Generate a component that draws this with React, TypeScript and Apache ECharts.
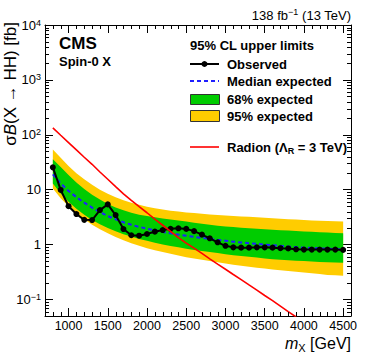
import React, { useEffect, useRef } from 'react';
import * as echarts from 'echarts';

const masses = [800, 900, 1000, 1100, 1200, 1300, 1400, 1500, 1600, 1700, 1800, 1900, 2000, 2100, 2200, 2300, 2400, 2500, 2600, 2700, 2800, 2900, 3000, 3100, 3200, 3300, 3400, 3500, 3600, 3700, 3800, 3900, 4000, 4100, 4200, 4300, 4400, 4500];
const observed = [25.5, 9.9, 5.0, 3.6, 2.82, 2.8, 4.25, 5.4, 3.45, 1.92, 1.48, 1.45, 1.56, 1.72, 1.84, 1.94, 1.98, 1.93, 1.76, 1.52, 1.3, 1.1, 0.95, 0.89, 0.88, 0.88, 0.89, 0.89, 0.88, 0.86, 0.85, 0.82, 0.81, 0.81, 0.81, 0.81, 0.81, 0.8];
const expected = [19, 13, 9.5, 7.3, 5.8, 4.7, 3.9, 3.3, 2.9, 2.55, 2.3, 2.1, 1.95, 1.82, 1.7, 1.6, 1.52, 1.45, 1.38, 1.32, 1.27, 1.22, 1.18, 1.13, 1.09, 1.06, 1.03, 1.0, 0.97, 0.95, 0.92, 0.9, 0.88, 0.87, 0.85, 0.84, 0.83, 0.82];
const exp68Up = [36, 26, 18.5, 13.5, 10.3, 8.1, 6.6, 5.5, 4.75, 4.2, 3.8, 3.5, 3.3, 3.15, 3.0, 2.87, 2.75, 2.62, 2.5, 2.4, 2.3, 2.21, 2.14, 2.08, 2.03, 1.98, 1.94, 1.9, 1.87, 1.83, 1.8, 1.77, 1.74, 1.71, 1.68, 1.66, 1.63, 1.61];
const exp68Down = [13, 8.5, 6.0, 4.5, 3.5, 2.8, 2.35, 2.0, 1.75, 1.55, 1.4, 1.27, 1.17, 1.08, 1.0, 0.94, 0.89, 0.84, 0.8, 0.76, 0.73, 0.7, 0.67, 0.64, 0.62, 0.6, 0.58, 0.56, 0.54, 0.53, 0.52, 0.51, 0.5, 0.49, 0.48, 0.475, 0.47, 0.465];
const exp95Up = [54, 38, 27, 20, 15.5, 12.3, 10, 8.4, 7.3, 6.4, 5.8, 5.3, 4.9, 4.6, 4.35, 4.15, 4.0, 3.85, 3.75, 3.65, 3.55, 3.47, 3.4, 3.33, 3.26, 3.2, 3.14, 3.08, 3.02, 2.96, 2.9, 2.85, 2.8, 2.76, 2.72, 2.68, 2.65, 2.62];
const exp95Down = [10.5, 7.0, 5.0, 3.7, 2.9, 2.3, 1.9, 1.6, 1.38, 1.2, 1.06, 0.95, 0.86, 0.79, 0.73, 0.68, 0.63, 0.59, 0.56, 0.53, 0.5, 0.475, 0.45, 0.43, 0.41, 0.395, 0.38, 0.365, 0.35, 0.34, 0.33, 0.32, 0.31, 0.3, 0.29, 0.28, 0.275, 0.27];
const radionMasses = [800, 900, 1000, 1100, 1200, 1300, 1400, 1500, 1600, 1700, 1800, 1900, 2000, 2100, 2200, 2300, 2400, 2500, 2600, 2700, 2800, 2900, 3000, 3100, 3200, 3300, 3400, 3500, 3600, 3700, 3800, 3900];
const radionXsec = [134, 98, 72, 53, 39, 29, 21, 15.5, 11.4, 8.4, 6.4, 4.9, 3.8, 2.9, 2.25, 1.74, 1.34, 1.06, 0.86, 0.69, 0.55, 0.44, 0.355, 0.285, 0.23, 0.184, 0.148, 0.118, 0.095, 0.0755, 0.06, 0.048];

const X_MIN = 700;
const X_MAX = 4600;
const Y_MIN = 0.05;
const Y_MAX = 10000;

// minor tick positions (axis decoration)
const xMinorTicks: number[] = [];
for (let v = 800; v < X_MAX; v += 100) if (v % 500 !== 0) xMinorTicks.push(v);
const yMinorTicks: number[] = [];
for (let e = -2; e < 4; e++) {
  for (let k = 2; k <= 9; k++) {
    const v = k * Math.pow(10, e);
    if (v > Y_MIN && v < Y_MAX) yMinorTicks.push(v);
  }
}

const FONT = '"Liberation Sans", Arial, Helvetica, sans-serif';
const GREEN = '#00cc00';
const YELLOW = '#ffcc00';

function bandSeries(up: number[], down: number[], color: string, z: number) {
  return {
    type: 'custom',
    xAxisIndex: 0,
    yAxisIndex: 0,
    z,
    silent: true,
    data: [[masses[0], up[0]]],
    renderItem: (_params: any, api: any) => {
      const pts: number[][] = [];
      for (let i = 0; i < masses.length; i++) pts.push(api.coord([masses[i], up[i]]));
      for (let i = masses.length - 1; i >= 0; i--) pts.push(api.coord([masses[i], down[i]]));
      return { type: 'polygon', shape: { points: pts }, style: { fill: color, stroke: 'none' } };
    },
  };
}

function yLabel(v: number) {
  const e = Math.round(Math.log10(v));
  if (Math.abs(Math.pow(10, e) - v) / v > 1e-6) return '';
  if (e === 0) return '{b|1}';
  if (e === 1) return '{b|10}';
  return '{b|10}{s|' + (e < 0 ? '\u2212' + -e : String(e)) + '}';
}

const tickStyle = { stroke: '#000', lineWidth: 1 };

const option: any = {
  animation: false,
  backgroundColor: '#fff',
  grid: { left: 45, right: 23, top: 25, bottom: 43 },
  xAxis: [
    {
      type: 'value', min: X_MIN, max: X_MAX, splitNumber: 8, position: 'bottom',
      axisLine: { show: true, onZero: false, lineStyle: { color: '#000', width: 1 } },
      axisTick: { show: true, inside: true, length: 8, lineStyle: { color: '#000' } },
      axisLabel: {
        show: true, showMinLabel: false, showMaxLabel: false, margin: 3, color: '#000', fontFamily: FONT, fontSize: 12.5,
        formatter: (v: number) => String(Math.round(v)),
      },
      splitLine: { show: false },
    },
    {
      type: 'value', min: X_MIN, max: X_MAX, splitNumber: 8, position: 'top',
      axisLine: { show: true, onZero: false, lineStyle: { color: '#000', width: 1 } },
      axisTick: { show: true, inside: true, length: 8, lineStyle: { color: '#000' } },
      axisLabel: { show: false },
      splitLine: { show: false },
    },
  ],
  yAxis: [
    {
      type: 'log', logBase: 10, min: Y_MIN, max: Y_MAX, position: 'left',
      axisLine: { show: true, onZero: false, lineStyle: { color: '#000', width: 1 } },
      axisTick: { show: true, inside: true, length: 8, lineStyle: { color: '#000' } },
      axisLabel: {
        show: true, showMinLabel: false, margin: 4, color: '#000', fontFamily: FONT,
        formatter: yLabel,
        rich: {
          b: { fontSize: 13, fontFamily: FONT, color: '#000', lineHeight: 14 },
          s: { fontSize: 9, fontFamily: FONT, color: '#000', lineHeight: 9, verticalAlign: 'top', padding: [0, 0, 7, 0] },
        },
      },
      splitLine: { show: false },
    },
    {
      type: 'log', logBase: 10, min: Y_MIN, max: Y_MAX, position: 'right',
      axisLine: { show: true, onZero: false, lineStyle: { color: '#000', width: 1 } },
      axisTick: { show: true, inside: true, length: 8, lineStyle: { color: '#000' } },
      axisLabel: { show: false },
      splitLine: { show: false },
    },
  ],
  series: [
    bandSeries(exp95Up, exp95Down, YELLOW, 1),
    bandSeries(exp68Up, exp68Down, GREEN, 2),
    {
      type: 'line', name: 'Median expected', xAxisIndex: 0, yAxisIndex: 0, z: 3,
      data: masses.map((m, i) => [m, expected[i]]),
      showSymbol: false, symbol: 'none',
      lineStyle: { color: '#1f1fff', width: 2, type: [4, 3] },
    },
    {
      type: 'line', name: 'Observed', xAxisIndex: 0, yAxisIndex: 0, z: 4,
      data: masses.map((m, i) => [m, observed[i]]),
      symbol: 'circle', symbolSize: 6, showSymbol: true,
      itemStyle: { color: '#000' },
      lineStyle: { color: '#000', width: 2 },
    },
    {
      type: 'line', name: 'Radion', xAxisIndex: 0, yAxisIndex: 0, z: 5,
      data: radionMasses.map((m, i) => [m, radionXsec[i]]),
      showSymbol: false, symbol: 'none', clip: true,
      lineStyle: { color: '#ff0000', width: 1.6 },
    },
    {
      type: 'custom', xAxisIndex: 0, yAxisIndex: 0, z: 10, silent: true,
      data: [
        ...xMinorTicks.map((v) => [v, 1, 0]),
        ...yMinorTicks.map((v) => [1000, v, 1]),
      ],
      renderItem: (params: any, api: any) => {
        const cs = params.coordSys;
        const kind = api.value(2);
        if (kind === 0) {
          const x = Math.round(api.coord([api.value(0), 1])[0]) + 0.5;
          return {
            type: 'group', children: [
              { type: 'line', shape: { x1: x, y1: cs.y + cs.height, x2: x, y2: cs.y + cs.height - 4 }, style: tickStyle },
              { type: 'line', shape: { x1: x, y1: cs.y, x2: x, y2: cs.y + 4 }, style: tickStyle },
            ],
          };
        }
        const y = Math.round(api.coord([1000, api.value(1)])[1]) + 0.5;
        return {
          type: 'group', children: [
            { type: 'line', shape: { x1: cs.x, y1: y, x2: cs.x + 4, y2: y }, style: tickStyle },
            { type: 'line', shape: { x1: cs.x + cs.width, y1: y, x2: cs.x + cs.width - 4, y2: y }, style: tickStyle },
          ],
        };
      },
    },
  ],
  graphic: [
    {
      type: 'text', x: 351, y: 15, z: 20,
      style: {
        text: '{n|138 fb}{s|\u22121}{n| (13 TeV)}', align: 'right', textAlign: 'right', verticalAlign: 'middle', textVerticalAlign: 'middle',
        rich: {
          n: { fontSize: 13, fontFamily: FONT, fill: '#000', color: '#000', lineHeight: 16 },
          s: { fontSize: 9, fontFamily: FONT, fill: '#000', color: '#000', lineHeight: 9, verticalAlign: 'top', padding: [0, 0, 6, 0] },
        },
      },
    },
    {
      type: 'text', x: 19, y: 22, rotation: Math.PI / 2, z: 20,
      style: {
        text: '{n|\u03c3}{i|B}{n|(X \u2192 HH) [fb]}', align: 'right', textAlign: 'right', verticalAlign: 'bottom', textVerticalAlign: 'bottom',
        rich: {
          n: { fontSize: 17, fontFamily: FONT, fill: '#000', color: '#000' },
          i: { fontSize: 17, fontFamily: FONT, fontStyle: 'italic', fill: '#000', color: '#000' },
        },
      },
    },
    {
      type: 'text', x: 351, y: 343, z: 20,
      style: {
        text: '{i|m}{sub|X}{n| [GeV]}', align: 'right', textAlign: 'right', verticalAlign: 'middle', textVerticalAlign: 'middle',
        rich: {
          n: { fontSize: 16, fontFamily: FONT, fill: '#000', color: '#000', lineHeight: 20 },
          i: { fontSize: 16, fontFamily: FONT, fontStyle: 'italic', fill: '#000', color: '#000', lineHeight: 20 },
          sub: { fontSize: 11, fontFamily: FONT, fill: '#000', color: '#000', lineHeight: 11, verticalAlign: 'bottom', padding: [5, 0, 0, 0] },
        },
      },
    },
    {
      type: 'text', x: 59, y: 43, z: 20,
      style: { text: 'CMS', font: 'bold 17px ' + FONT, fill: '#000', align: 'left', textAlign: 'left', verticalAlign: 'middle', textVerticalAlign: 'middle' },
    },
    {
      type: 'text', x: 59, y: 61, z: 20,
      style: { text: 'Spin-0 X', font: 'bold 13px ' + FONT, fill: '#000', align: 'left', textAlign: 'left', verticalAlign: 'middle', textVerticalAlign: 'middle' },
    },
    {
      type: 'text', x: 190, y: 45, z: 20,
      style: { text: '95% CL upper limits', font: 'bold 13px ' + FONT, fill: '#000', align: 'left', textAlign: 'left', verticalAlign: 'middle', textVerticalAlign: 'middle' },
    },
    { type: 'line', z: 20, shape: { x1: 190, y1: 64, x2: 219, y2: 64 }, style: { stroke: '#000', lineWidth: 2 } },
    { type: 'circle', z: 21, shape: { cx: 204.5, cy: 64, r: 3 }, style: { fill: '#000' } },
    {
      type: 'text', x: 227, y: 64, z: 20,
      style: { text: 'Observed', font: 'bold 13px ' + FONT, fill: '#000', align: 'left', textAlign: 'left', verticalAlign: 'middle', textVerticalAlign: 'middle' },
    },
    { type: 'line', z: 20, shape: { x1: 190, y1: 81, x2: 219, y2: 81 }, style: { stroke: '#1f1fff', lineWidth: 2, lineDash: [4, 3] } },
    {
      type: 'text', x: 227, y: 81, z: 20,
      style: { text: 'Median expected', font: 'bold 13px ' + FONT, fill: '#000', align: 'left', textAlign: 'left', verticalAlign: 'middle', textVerticalAlign: 'middle' },
    },
    { type: 'rect', z: 20, shape: { x: 190.5, y: 94.5, width: 29, height: 10 }, style: { fill: GREEN, stroke: '#333', lineWidth: 1 } },
    {
      type: 'text', x: 227, y: 99, z: 20,
      style: { text: '68% expected', font: 'bold 13px ' + FONT, fill: '#000', align: 'left', textAlign: 'left', verticalAlign: 'middle', textVerticalAlign: 'middle' },
    },
    { type: 'rect', z: 20, shape: { x: 190.5, y: 110.5, width: 29, height: 11 }, style: { fill: YELLOW, stroke: '#333', lineWidth: 1 } },
    {
      type: 'text', x: 227, y: 116, z: 20,
      style: { text: '95% expected', font: 'bold 13px ' + FONT, fill: '#000', align: 'left', textAlign: 'left', verticalAlign: 'middle', textVerticalAlign: 'middle' },
    },
    { type: 'line', z: 20, shape: { x1: 190, y1: 147, x2: 219, y2: 147 }, style: { stroke: '#ff0000', lineWidth: 1.6 } },
    {
      type: 'text', x: 227, y: 147, z: 20,
      style: {
        text: '{n|Radion (\u039b}{sub|R}{n| = 3 TeV)}', align: 'left', textAlign: 'left', verticalAlign: 'middle', textVerticalAlign: 'middle',
        rich: {
          n: { fontSize: 13, fontWeight: 'bold', fontFamily: FONT, fill: '#000', color: '#000', lineHeight: 16 },
          sub: { fontSize: 9, fontWeight: 'bold', fontFamily: FONT, fill: '#000', color: '#000', lineHeight: 9, verticalAlign: 'bottom', padding: [5, 0, 0, 0] },
        },
      },
    },
  ],
};

export default function App() {
  const ref = useRef<HTMLDivElement>(null);
  useEffect(() => {
    if (!ref.current) return;
    const chart = echarts.init(ref.current, null, { renderer: 'svg' });
    chart.setOption(option);
    return () => chart.dispose();
  }, []);
  return (
    <div
      ref={ref}
      style={{ position: 'absolute', left: 0, top: 0, width: 374, height: 359, background: '#fff' }}
    />
  );
}
